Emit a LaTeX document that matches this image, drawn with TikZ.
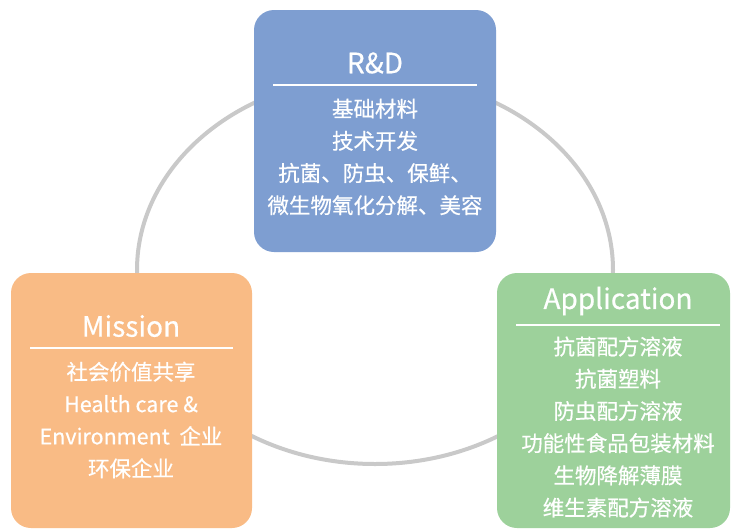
\documentclass[tikz,border=0pt]{standalone}
\usepackage{fontspec}
\setmainfont{Noto Sans CJK SC}[UprightFeatures={FakeBold=0.5}]
\usetikzlibrary{positioning}

\definecolor{rdblue}{HTML}{7E9ED1}
\definecolor{misorange}{HTML}{F9BB85}
\definecolor{appgreen}{HTML}{9DD19B}
\definecolor{ringgray}{HTML}{C9C9C9}

\begin{document}
\begin{tikzpicture}[x=1pt,y=-1pt]
    \tikzset{block/.style= {rectangle, rounded corners=20pt
    , inner sep=0pt
    , draw=none
      },
    title/.style= {text=white, font=\fontsize{28}{34}\selectfont},
    body/.style= {text=white, align=center
    , font=\fontsize{21.5}{32.2}\selectfont
      },
    sep/.style= {draw=white, line width=1.4pt},
    ring/.style= {draw=ringgray, line width=4pt}
    }

\useasboundingbox (0,0) rectangle (731,530);
\fill[white] (0,0) rectangle (731,530);

% the cycle behind the boxes
\draw[ring] (375,270) ellipse [x radius=238, y radius=194];

\node [block, fill=rdblue, minimum width=242pt, minimum height=242pt] (rd) at (375,131) {};
\node [block, fill=misorange, minimum width=241pt, minimum height=255pt] (mission) at (131.5,400.5) {};
\node [block, fill=appgreen, minimum width=233pt, minimum height=255pt] (app) at (613.5,400.5) {};

\node [title] (rdtitle) at (375,63) {R\&D};
\node [title] (mistitle) at (131,326) {Mission};
\node [title] (apptitle) at (618,301) {Application};

\draw[sep] (273,85) -- (477,85);
\draw[sep] (30,348) -- (233,348);
\draw[sep] (516,325) -- (720,325);

\node [body] (rdtext) at (375,157) {基础材料\\技术开发\\抗菌、防虫、保鲜、\\微生物氧化分解、美容};
\node [body] (mistext) at (131,420) {社会价值共享\\Health care \&\\Environment\ \ 企业\\环保企业};
\node [body] (apptext) at (618,427) {抗菌配方溶液\\抗菌塑料\\防虫配方溶液\\功能性食品包装材料\\生物降解薄膜\\维生素配方溶液};
\end{tikzpicture}
\end{document}
